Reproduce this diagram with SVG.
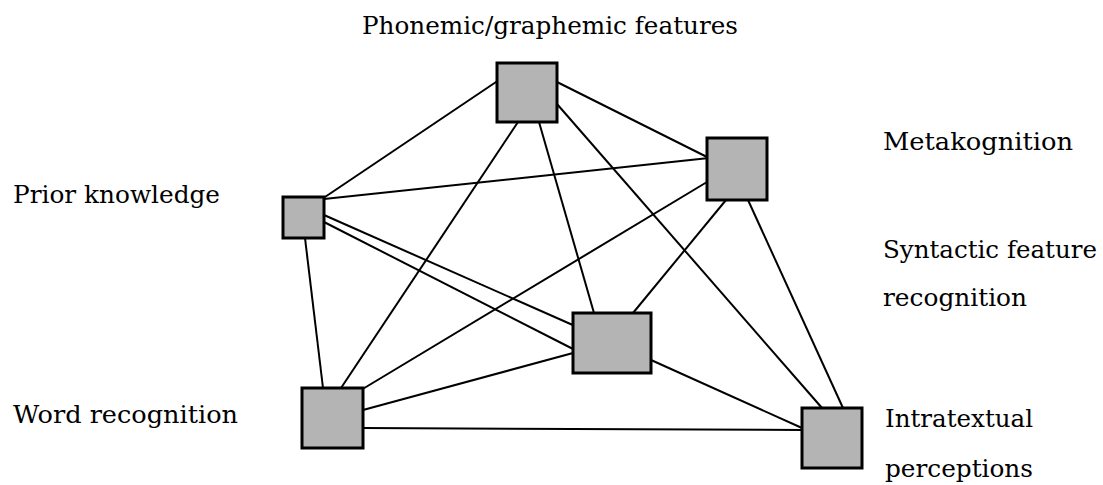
<svg xmlns="http://www.w3.org/2000/svg" width="1103" height="485" viewBox="0 0 1103 485">
<style>
text{font-family:'DejaVu Serif','Liberation Serif',serif;font-size:25px;fill:#000}
.edge{stroke:#000;stroke-width:2;fill:none}
.box{fill:#b4b4b4;stroke:#000;stroke-width:3}
</style>
<rect width="1103" height="485" fill="#fff"/>
<g id="connectors">
<line class="edge" x1="322" y1="199" x2="499" y2="80"/>
<line class="edge" x1="324" y1="199" x2="709" y2="158"/>
<line class="edge" x1="324" y1="215" x2="575" y2="326"/>
<line class="edge" x1="324" y1="222" x2="575" y2="350"/>
<line class="edge" x1="305" y1="238" x2="323" y2="388"/>
<line class="edge" x1="518" y1="122" x2="341" y2="388"/>
<line class="edge" x1="539" y1="122" x2="594" y2="313"/>
<line class="edge" x1="557" y1="104" x2="822" y2="408"/>
<line class="edge" x1="557" y1="82" x2="707" y2="157"/>
<line class="edge" x1="707" y1="182" x2="361" y2="390"/>
<line class="edge" x1="726" y1="200" x2="633" y2="313"/>
<line class="edge" x1="748" y1="200" x2="843" y2="408"/>
<line class="edge" x1="573" y1="353" x2="363" y2="410"/>
<line class="edge" x1="651" y1="360" x2="802" y2="428"/>
<line class="edge" x1="363" y1="428" x2="802" y2="430"/>
</g>
<g id="phonemic">
<rect class="box" x="497" y="63" width="60" height="59"/>
<text x="362" y="34" textLength="376" lengthAdjust="spacingAndGlyphs">Phonemic/graphemic features</text>
</g>
<g id="prior">
<rect class="box" x="283" y="197" width="41" height="41"/>
<text x="13" y="203" textLength="207" lengthAdjust="spacingAndGlyphs">Prior knowledge</text>
</g>
<g id="meta">
<rect class="box" x="707" y="138" width="60" height="62"/>
<text x="883" y="150" textLength="190" lengthAdjust="spacingAndGlyphs">Metakognition</text>
</g>
<g id="syntactic">
<rect class="box" x="573" y="313" width="78" height="60"/>
<text x="883" y="258" textLength="214" lengthAdjust="spacingAndGlyphs">Syntactic feature</text>
<text x="883" y="306" textLength="144" lengthAdjust="spacingAndGlyphs">recognition</text>
</g>
<g id="word">
<rect class="box" x="302" y="388" width="61" height="60"/>
<text x="13" y="423" textLength="225" lengthAdjust="spacingAndGlyphs">Word recognition</text>
</g>
<g id="intra">
<rect class="box" x="802" y="408" width="60" height="60"/>
<text x="885" y="427" textLength="148" lengthAdjust="spacingAndGlyphs">Intratextual</text>
<text x="885" y="477" textLength="148" lengthAdjust="spacingAndGlyphs">perceptions</text>
</g>
</svg>
